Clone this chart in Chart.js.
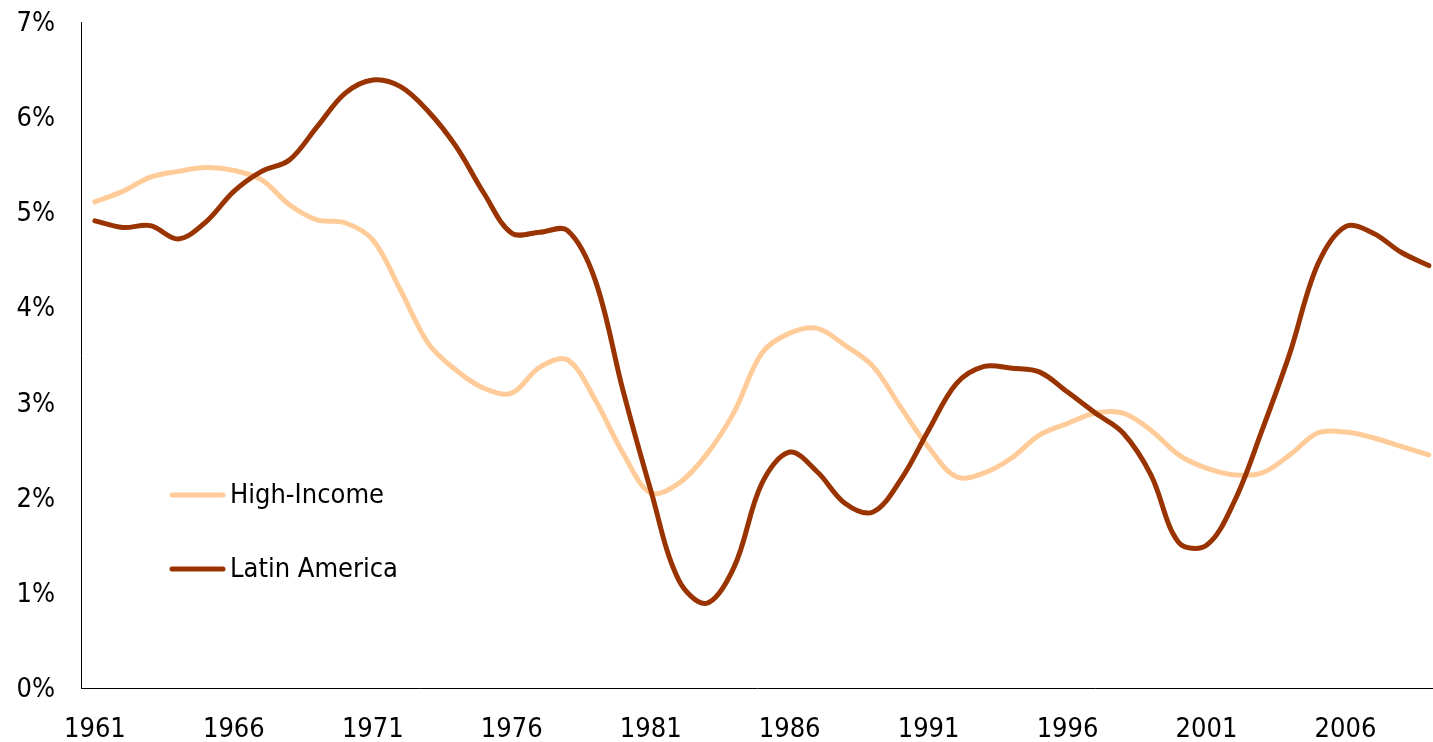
<!DOCTYPE html>
<html>
<head>
<meta charset="utf-8">
<script src="https://cdn.jsdelivr.net/npm/chart.js@4.4.1/dist/chart.umd.min.js"></script>
<style>
    html, body { margin: 0; padding: 0; background: #fff; }
    #wrap { width: 1433px; height: 742px; }
</style>
</head>
<body>
<div id="wrap"><canvas id="growth-chart" width="1433" height="742"></canvas></div>
<script>
    // years 1961..2009
    const years = [];
    for (let y = 1961; y <= 2009; y++) years.push(y);

    const xTickYears = [1961, 1966, 1971, 1976, 1981, 1986, 1991, 1996, 2001, 2006];
    const yTickValues = [0, 1, 2, 3, 4, 5, 6, 7];

    // values in %
    const highIncome = [
        5.11, 5.22, 5.37, 5.43, 5.47, 5.44, 5.34, 5.08, 4.92, 4.89,
        4.71, 4.18, 3.62, 3.34, 3.15, 3.10, 3.37, 3.45, 3.03, 2.47,
        2.05, 2.15, 2.45, 2.90, 3.52, 3.73, 3.78, 3.60, 3.38, 2.95,
        2.53, 2.22, 2.26, 2.42, 2.66, 2.78, 2.89, 2.89, 2.71, 2.45,
        2.31, 2.24, 2.26, 2.45, 2.68, 2.69, 2.63, 2.54, 2.45
    ];

    const latinAmerica = [
        4.91, 4.84, 4.86, 4.72, 4.90, 5.22, 5.43, 5.55, 5.90, 6.25,
        6.39, 6.32, 6.06, 5.69, 5.20, 4.78, 4.79, 4.81, 4.29, 3.13,
        2.08, 1.14, 0.89, 1.27, 2.15, 2.48, 2.27, 1.94, 1.85, 2.19,
        2.71, 3.20, 3.38, 3.36, 3.32, 3.11, 2.89, 2.68, 2.24, 1.53,
        1.50, 1.96, 2.71, 3.52, 4.45, 4.85, 4.78, 4.58, 4.44
    ];

    const FONT = '"DejaVu Sans Condensed", "DejaVu Sans", Tahoma, sans-serif';
    const FONT_SIZE = 27;

    const toPoints = (vals) => vals.map((v, i) => ({ x: years[i], y: v }));

    // legend drawn inside the plot area
    const insideLegend = {
        id: 'insideLegend',
        afterDraw(chart) {
            const ctx = chart.ctx;
            const area = chart.chartArea;
            const rows = [
                { ds: chart.data.datasets[0], y: area.top + 473 },
                { ds: chart.data.datasets[1], y: area.top + 547 }
            ];
            ctx.save();
            ctx.font = FONT_SIZE + 'px ' + FONT;
            ctx.textBaseline = 'middle';
            ctx.fillStyle = '#000';
            rows.forEach((r) => {
                ctx.beginPath();
                ctx.strokeStyle = r.ds.borderColor;
                ctx.lineWidth = 5;
                ctx.lineCap = 'round';
                ctx.moveTo(area.left + 91, r.y);
                ctx.lineTo(area.left + 142, r.y);
                ctx.stroke();
                ctx.fillText(r.ds.label, area.left + 149, r.y + 1);
            });
            ctx.restore();
        }
    };

    const ctx = document.getElementById('growth-chart');

    new Chart(ctx, {
        type: 'line',
        data: {
            datasets: [{
                label: 'High-Income',
                data: toPoints(highIncome),
                borderColor: '#FFCC99',
                borderWidth: 5,
                tension: 0.35,
                pointRadius: 0,
                borderCapStyle: 'round',
                borderJoinStyle: 'round',
                order: 1
            }, {
                label: 'Latin America',
                data: toPoints(latinAmerica),
                borderColor: '#993300',
                borderWidth: 5,
                tension: 0.35,
                pointRadius: 0,
                borderCapStyle: 'round',
                borderJoinStyle: 'round',
                order: 0
            }]
        },
        options: {
            responsive: false,
            animation: false,
            layout: {
                padding: { top: 22, right: 0, left: 0, bottom: 0 }
            },
            plugins: {
                legend: { display: false },
                tooltip: { enabled: false }
            },
            scales: {
                x: {
                    type: 'linear',
                    min: 1960.5,
                    max: 2009.15,
                    afterBuildTicks: (scale) => {
                        scale.ticks = xTickYears.map(v => ({ value: v }));
                    },
                    afterFit: (scale) => {
                        scale.height = 54;
                        scale.paddingLeft = 0;
                        scale.paddingRight = 0;
                    },
                    grid: { display: false, drawTicks: false },
                    border: { display: true, color: '#000', width: 1 },
                    ticks: {
                        color: '#000',
                        padding: 26,
                        maxRotation: 0,
                        autoSkip: false,
                        font: { family: FONT, size: FONT_SIZE },
                        callback: (v) => String(v)
                    }
                },
                y: {
                    min: 0,
                    max: 7,
                    afterBuildTicks: (scale) => {
                        scale.ticks = yTickValues.map(v => ({ value: v }));
                    },
                    afterFit: (scale) => {
                        scale.width = 81;
                        scale.paddingTop = 0;
                        scale.paddingBottom = 0;
                    },
                    grid: { display: false, drawTicks: false },
                    border: { display: true, color: '#000', width: 1 },
                    ticks: {
                        color: '#000',
                        padding: 26,
                        labelOffset: 2,
                        font: { family: FONT, size: FONT_SIZE },
                        callback: (v) => v + '%'
                    }
                }
            }
        },
        plugins: [insideLegend]
    });
</script>
</body>
</html>
